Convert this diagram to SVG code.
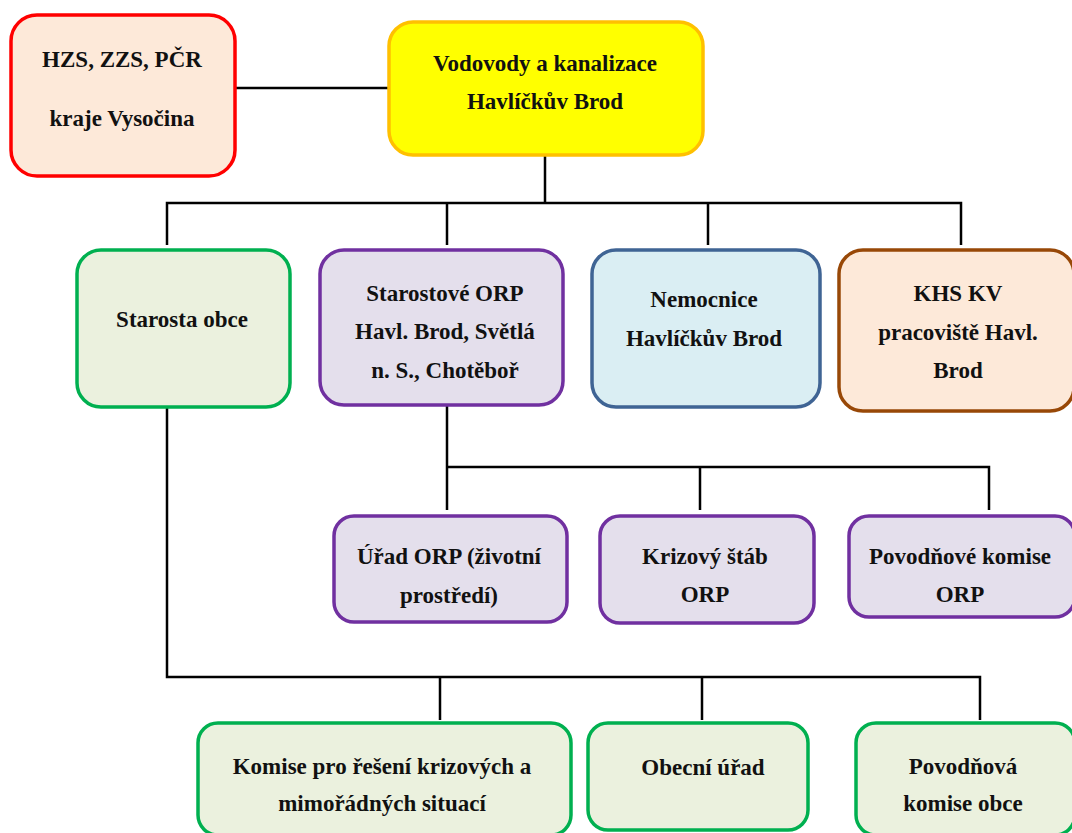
<svg xmlns="http://www.w3.org/2000/svg" width="1072" height="833" viewBox="0 0 1072 833">
<style>
.b{stroke-width:3.5}
text{font-family:"Liberation Serif","Times New Roman",serif;font-weight:bold;font-size:23px;text-anchor:middle;fill:#111}
.red{fill:#fde9d9;stroke:#ff0000}
.yel{fill:#ffff00;stroke:#ffc000}
.grn{fill:#ebf1de;stroke:#00b050}
.pur{fill:#e4dfec;stroke:#7030a0}
.blu{fill:#daeef3;stroke:#3f6494}
.brn{fill:#fde9d9;stroke:#984807}
.c{fill:none;stroke:#000;stroke-width:2.5}
</style>
<rect width="1072" height="833" fill="#fff"/>
<g id="connectors">
<path class="c" d="M235 88H388"/>
<path class="c" d="M545 155V203M167 245V203H961V245M447 203V245M708 203V245"/>
<path class="c" d="M167 407V677H980V720M440 677V720M702 677V720"/>
<path class="c" d="M447 405V510M447 467H989V510M700 467V510"/>
</g>
<g id="n1"><rect class="red b" x="11" y="15" width="224" height="161" rx="26"/><text x="122" y="67">HZS, ZZS, PČR</text><text x="122" y="126">kraje Vysočina</text></g>
<g id="n2"><rect class="yel b" x="389" y="22" width="314" height="133" rx="24"/><text x="545" y="71">Vodovody a kanalizace</text><text x="545" y="109">Havlíčkův Brod</text></g>
<g id="n3"><rect class="grn b" x="77" y="250" width="213" height="157" rx="24"/><text x="182" y="327">Starosta obce</text></g>
<g id="n4"><rect class="pur b" x="320" y="250" width="243" height="155" rx="24"/><text x="445" y="301">Starostové ORP</text><text x="445" y="339">Havl. Brod, Světlá</text><text x="445" y="378">n. S., Chotěboř</text></g>
<g id="n5"><rect class="blu b" x="592" y="250" width="228" height="157" rx="24"/><text x="704" y="307">Nemocnice</text><text x="704" y="346">Havlíčkův Brod</text></g>
<g id="n6"><rect class="brn b" x="839" y="250" width="235" height="161" rx="24"/><text x="958" y="301">KHS KV</text><text x="958" y="340">pracoviště Havl.</text><text x="958" y="378">Brod</text></g>
<g id="n7"><rect class="pur b" x="334" y="516" width="233" height="106" rx="20"/><text x="449" y="564">Úřad ORP (životní</text><text x="449" y="603">prostředí)</text></g>
<g id="n8"><rect class="pur b" x="600" y="516" width="214" height="107" rx="20"/><text x="705" y="564">Krizový štáb</text><text x="705" y="602">ORP</text></g>
<g id="n9"><rect class="pur b" x="849" y="516" width="226" height="101" rx="20"/><text x="960" y="564">Povodňové komise</text><text x="960" y="602">ORP</text></g>
<g id="n10"><rect class="grn b" x="198" y="723" width="373" height="112" rx="20"/><text x="382" y="774">Komise pro řešení krizových a</text><text x="382" y="811">mimořádných situací</text></g>
<g id="n11"><rect class="grn b" x="588" y="723" width="220" height="107" rx="20"/><text x="703" y="775">Obecní úřad</text></g>
<g id="n12"><rect class="grn b" x="856" y="723" width="219" height="112" rx="20"/><text x="963" y="774">Povodňová</text><text x="963" y="811">komise obce</text></g>
</svg>
